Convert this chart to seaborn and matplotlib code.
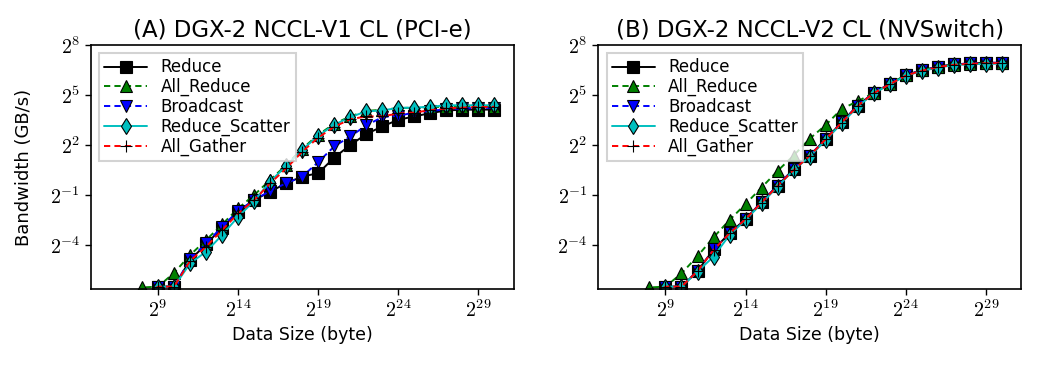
import numpy as np
import pandas as pd
import seaborn as sns
import matplotlib.pyplot as plt
from matplotlib.ticker import FixedLocator, FuncFormatter, NullLocator

# data sizes: 2^6 .. 2^30 bytes
SIZE_EXP = list(range(6, 31))

# bandwidth values given as log2(GB/s)
# (A) DGX-2 NCCL-V1 CL (PCI-e)
pcie_reduce = [-8.0, -7.5, -7.2, -6.5, -6.5, -4.9, -3.95, -2.96, -2.0, -1.3, -0.8, -0.29, 0.11,
               0.31, 1.25, 2.0, 2.66, 3.12, 3.52, 3.72, 3.92, 4.08, 4.12, 4.13, 4.13]
pcie_all_reduce = [-7.8, -7.2, -6.55, -6.5, -5.67, -4.6, -3.7, -2.76, -1.8, -1.0, -0.09, 0.8, 1.78,
                   2.62, 3.28, 3.72, 4.05, 4.12, 4.22, 4.25, 4.28, 4.3, 4.3, 4.3, 4.3]
pcie_broadcast = [-8.0, -7.5, -7.2, -6.5, -6.5, -4.85, -3.9, -2.9, -1.95, -1.3, -0.75, -0.29, 0.11,
                  0.98, 1.92, 2.52, 3.18, 3.68, 3.76, 3.95, 4.05, 4.15, 4.2, 4.22, 4.25]
pcie_reduce_scatter = [-8.0, -7.5, -7.2, -6.5, -6.5, -5.1, -4.4, -3.4, -2.3, -1.35, -0.19, 0.75, 1.72,
                       2.56, 3.22, 3.68, 4.02, 4.08, 4.23, 4.25, 4.3, 4.39, 4.39, 4.39, 4.39]
pcie_all_gather = [-8.0, -7.5, -7.2, -6.5, -6.5, -4.95, -4.1, -3.1, -2.1, -1.3, -0.3, 0.6, 1.6,
                   2.45, 3.1, 3.55, 3.72, 3.72, 3.9, 3.95, 4.1, 4.2, 4.25, 4.28, 4.3]

# (B) DGX-2 NCCL-V2 CL (NVSwitch)
nvs_reduce = [-8.0, -7.5, -7.2, -6.5, -6.5, -5.57, -4.27, -3.3, -2.44, -1.43, -0.43, 0.55, 1.36,
              2.36, 3.36, 4.37, 5.13, 5.67, 6.19, 6.49, 6.7, 6.84, 6.9, 6.94, 6.94]
nvs_all_reduce = [-7.8, -7.2, -6.55, -6.5, -5.71, -4.67, -3.54, -2.5, -1.54, -0.55, 0.45, 1.37, 2.38,
                  3.2, 4.17, 4.63, 5.13, 5.67, 6.19, 6.49, 6.7, 6.82, 6.88, 6.9, 6.9]
nvs_broadcast = [-8.0, -7.5, -7.2, -6.5, -6.5, -5.57, -4.27, -3.3, -2.44, -1.43, -0.43, 0.55, 1.36,
                 2.36, 3.36, 4.37, 5.13, 5.67, 6.19, 6.49, 6.7, 6.84, 6.9, 6.94, 6.94]
nvs_reduce_scatter = [-8.0, -7.5, -7.2, -6.5, -6.5, -5.6, -4.7, -3.4, -2.5, -1.5, -0.5, 0.5, 1.3,
                      2.3, 3.3, 4.3, 5.1, 5.65, 6.15, 6.45, 6.65, 6.8, 6.85, 6.88, 6.88]
nvs_all_gather = [-8.0, -7.5, -7.2, -6.5, -6.5, -5.57, -4.3, -3.3, -2.45, -1.45, -0.45, 0.5, 1.35,
                  2.35, 3.35, 4.35, 5.12, 5.65, 6.17, 6.47, 6.68, 6.82, 6.88, 6.92, 6.92]

SERIES = ["Reduce", "All_Reduce", "Broadcast", "Reduce_Scatter", "All_Gather"]
PANELS = [
    ("(A) DGX-2 NCCL-V1 CL (PCI-e)",
     [pcie_reduce, pcie_all_reduce, pcie_broadcast, pcie_reduce_scatter, pcie_all_gather]),
    ("(B) DGX-2 NCCL-V2 CL (NVSwitch)",
     [nvs_reduce, nvs_all_reduce, nvs_broadcast, nvs_reduce_scatter, nvs_all_gather]),
]

BLACK = (0, 0, 0)
GREEN = (0, 0.5, 0)
BLUE = (0, 0, 1)
CYAN = (0, 0.75, 0.75)
RED = (1, 0, 0)

# line style per series (classic matplotlib look)
STYLES = {
    "Reduce":         dict(color=BLACK, linestyle="-", marker="s", markerfacecolor=BLACK),
    "All_Reduce":     dict(color=GREEN, linestyle="--", marker="^", markerfacecolor=GREEN),
    "Broadcast":      dict(color=BLUE, linestyle="--", marker="v", markerfacecolor=BLUE),
    "Reduce_Scatter": dict(color=CYAN, linestyle="-", marker="d", markerfacecolor=CYAN),
    "All_Gather":     dict(color=RED, linestyle="--", marker="+", markerfacecolor=BLACK),
}

sns.set_theme(style="ticks", color_codes=False)
plt.rcParams["font.family"] = ["DejaVu Sans"]
plt.rcParams["mathtext.fontset"] = "cm"
plt.rcParams["text.color"] = "black"
plt.rcParams["axes.labelcolor"] = "black"
plt.rcParams["lines.scale_dashes"] = False
plt.rcParams["lines.dashed_pattern"] = (4.5, 3.0)

fig, axes = plt.subplots(1, 2, figsize=(10.44, 3.67), dpi=100)
fig.subplots_adjust(left=0.087, right=0.978, bottom=0.2125, top=0.877, wspace=0.2)

pow2 = FuncFormatter(lambda v, pos: r"$2^{%d}$" % int(round(np.log2(v))))

for ax, (title, values) in zip(axes, PANELS):
    for name, vals in zip(SERIES, values):
        df = pd.DataFrame({"size": np.power(2.0, SIZE_EXP), "bw": np.power(2.0, vals)})
        sns.lineplot(data=df, x="size", y="bw", ax=ax, label=name,
                     markersize=8, markeredgecolor="k", markeredgewidth=0.8,
                     linewidth=1.4, **STYLES[name])
    ax.set_xscale("log", base=2)
    ax.set_yscale("log", base=2)
    ax.set_ylim(0.01, 256)
    ax.xaxis.set_major_locator(FixedLocator([2.0 ** e for e in [9, 14, 19, 24, 29]]))
    ax.yaxis.set_major_locator(FixedLocator([2.0 ** e for e in [-4, -1, 2, 5, 8]]))
    ax.xaxis.set_minor_locator(NullLocator())
    ax.yaxis.set_minor_locator(NullLocator())
    ax.xaxis.set_major_formatter(pow2)
    ax.yaxis.set_major_formatter(pow2)
    ax.tick_params(labelsize=14.5, length=4, width=1, colors="k")
    for sp in ax.spines.values():
        sp.set_visible(True)
        sp.set_color("k")
        sp.set_linewidth(1.2)
    ax.set_title(title, fontsize=16.5)
    ax.set_xlabel("Data Size (byte)", fontsize=12.5)
    ax.set_ylabel("")
    leg = ax.legend(loc="upper left", fontsize=12, fancybox=False, frameon=True,
                    borderpad=0.3, labelspacing=0.1, handlelength=2.6, handletextpad=0.8)
    leg.get_frame().set_edgecolor("#c8c8c8")
    leg.get_frame().set_linewidth(1.5)

axes[0].set_ylabel("Bandwidth (GB/s)", fontsize=13, labelpad=12)

fig.savefig("out.png", dpi=100)
